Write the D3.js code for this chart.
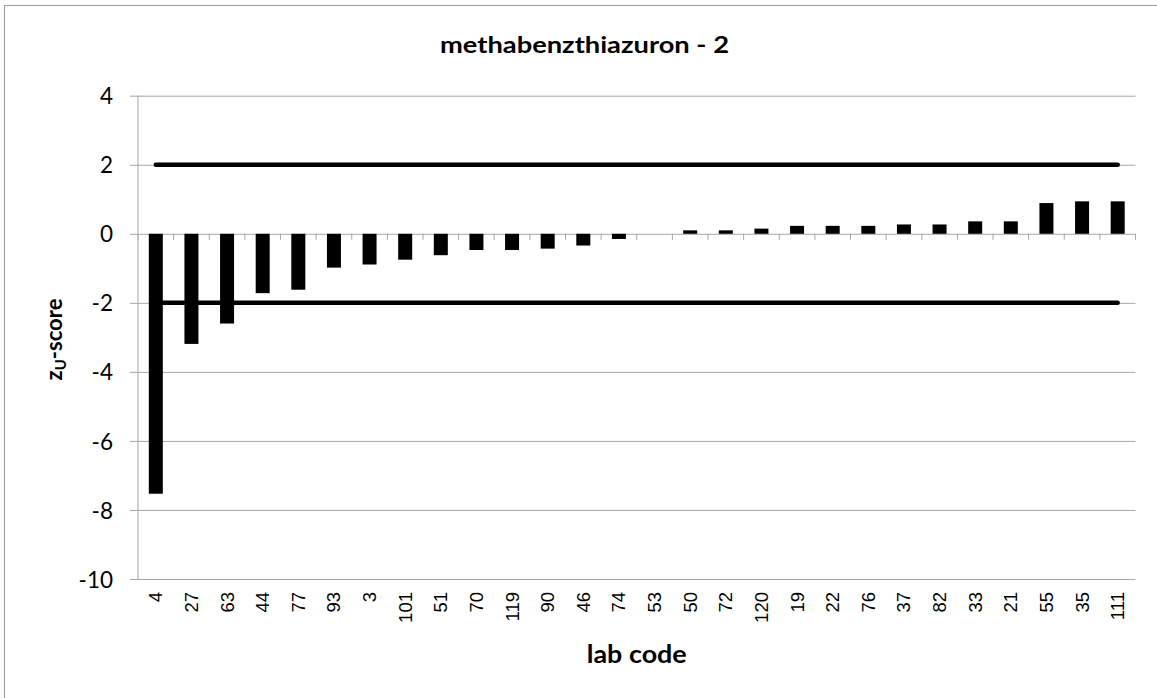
<!DOCTYPE html>
<html>
<head>
<meta charset="utf-8">
<script src="https://cdn.jsdelivr.net/npm/d3@7"></script>
<style>
  html, body { margin: 0; padding: 0; background: #ffffff; }
  svg { display: block; }
</style>
</head>
<body>
<script>
// ---- data ----
const labCodes = ["4","27","63","44","77","93","3","101","51","70","119","90","46","74","53","50","72","120","19","22","76","37","82","33","21","55","35","111"];
const zScores  = [-7.53,-3.19,-2.60,-1.72,-1.62,-0.98,-0.89,-0.75,-0.62,-0.47,-0.47,-0.43,-0.34,-0.15,0,0.10,0.10,0.15,0.23,0.23,0.23,0.27,0.27,0.36,0.36,0.89,0.94,0.94];
const yTicks   = [4, 2, 0, -2, -4, -6, -8, -10];
const limits   = [2, -2];
const titleText = "methabenzthiazuron - 2";
const xTitle = "lab code";

// ---- layout ----
const W = 1157, H = 698;
const pLeft = 138, pRight = 1135.5, pTop = 95.7, pBottom = 579;
const gridColor = "#a6a6a6";
const calibriLike = "Lato, 'Open Sans', 'DejaVu Sans', sans-serif";
const arialLike = "'Liberation Sans', Arial, sans-serif";

const svg = d3.select("body").append("svg").attr("width", W).attr("height", H);

// chart border (top/left visible; right/bottom cropped)
svg.append("rect").attr("x", 4.5).attr("y", 5.5).attr("width", W + 10).attr("height", H + 10)
  .attr("fill", "#fff").attr("stroke", "#9a9a9a").attr("stroke-width", 1);

const x = d3.scaleBand().domain(labCodes).range([pLeft, pRight]).padding(0);
const y = d3.scaleLinear().domain([-10, 4]).range([pBottom, pTop]);

// horizontal gridlines with outward ticks
const yAxis = d3.axisLeft(y).tickValues(yTicks).tickSize(-(pRight - pLeft)).tickFormat(d => d);
const gy = svg.append("g").attr("transform", `translate(${pLeft},0)`).call(yAxis);
gy.select(".domain").remove();
gy.selectAll(".tick line").attr("stroke", gridColor).attr("stroke-width", 1)
  .attr("x1", -8).attr("x2", pRight - pLeft);
gy.selectAll(".tick text").attr("x", -25).attr("dy", "0.36em")
  .attr("font-family", calibriLike).attr("font-size", 22.5).attr("fill", "#000");

// left axis line
svg.append("line").attr("x1", pLeft).attr("x2", pLeft).attr("y1", pTop).attr("y2", pBottom)
  .attr("stroke", gridColor).attr("stroke-width", 1);

// category tick marks on zero line
const bounds = labCodes.map(d => x(d)).concat([pRight]);
svg.append("g").selectAll("line").data(bounds).join("line")
  .attr("x1", d => d).attr("x2", d => d)
  .attr("y1", y(0)).attr("y2", y(0) + 6)
  .attr("stroke", gridColor).attr("stroke-width", 1);

// bars
const barW = 14;
svg.append("g").selectAll("rect").data(labCodes.map((c, i) => ({c, v: zScores[i]}))).join("rect")
  .attr("x", d => x(d.c) + x.bandwidth() / 2 - barW / 2)
  .attr("width", barW)
  .attr("y", d => Math.min(y(d.v), y(0)))
  .attr("height", d => Math.abs(y(d.v) - y(0)))
  .attr("fill", "#000");

// limit lines
const firstC = x(labCodes[0]) + x.bandwidth() / 2;
const lastC = x(labCodes[labCodes.length - 1]) + x.bandwidth() / 2;
svg.append("g").selectAll("line").data(limits).join("line")
  .attr("x1", firstC).attr("x2", lastC)
  .attr("y1", d => y(d)).attr("y2", d => y(d))
  .attr("stroke", "#000").attr("stroke-width", 4.5).attr("stroke-linecap", "round");

// x tick labels (rotated)
svg.append("g").selectAll("text").data(labCodes).join("text")
  .attr("transform", d => `translate(${x(d) + x.bandwidth() / 2},592) rotate(-90)`)
  .attr("text-anchor", "end").attr("dy", "0.35em")
  .attr("font-family", arialLike).attr("font-size", 18.5).attr("fill", "#000")
  .text(d => d);

// title
svg.append("text").attr("x", 584.5).attr("y", 53).attr("text-anchor", "middle")
  .attr("font-family", calibriLike).attr("font-weight", "bold").attr("font-size", 23)
  .attr("textLength", 289).attr("lengthAdjust", "spacingAndGlyphs")
  .attr("fill", "#000").text(titleText);

// x axis title
svg.append("text").attr("x", (pLeft + pRight) / 2).attr("y", 663).attr("text-anchor", "middle")
  .attr("font-family", calibriLike).attr("font-weight", "bold").attr("font-size", 24)
  .attr("textLength", 100).attr("lengthAdjust", "spacingAndGlyphs")
  .attr("fill", "#000").text(xTitle);

// y axis title
const yt = svg.append("text")
  .attr("transform", `translate(62,339.5) rotate(-90)`)
  .attr("text-anchor", "middle")
  .attr("font-family", calibriLike).attr("font-weight", "bold").attr("font-size", 22)
  .attr("fill", "#000");
yt.append("tspan").text("z");
yt.append("tspan").attr("font-size", 15).attr("dy", 4).text("U");
yt.append("tspan").attr("dy", -4).text("-score");
</script>
</body>
</html>
